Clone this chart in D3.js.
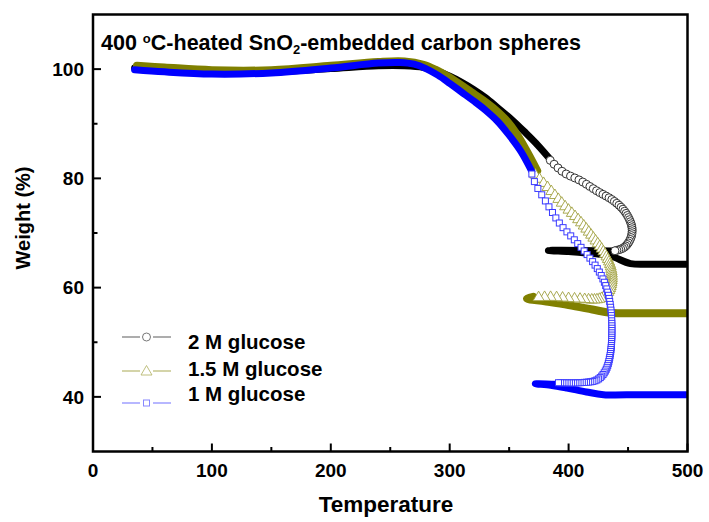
<!DOCTYPE html>
<html><head><meta charset="utf-8">
<script src="https://cdn.jsdelivr.net/npm/d3@7"></script>
<style>
body{margin:0;background:#fff}
text{font-family:"Liberation Sans",Arial,sans-serif;font-weight:bold;fill:#000}
</style>
</head><body>
<svg id="chart" width="709" height="522"></svg>
<script>
// ---------------- DATA ----------------
const seriesNames = ["2 M glucose", "1.5 M glucose", "1 M glucose"];

// 2 M glucose (black): heating part, fast-burn part (sparse markers), final part
const t2M_heat = [35, 60, 100, 150, 200, 240, 262, 278, 290, 300, 310, 320, 330, 340, 353, 364, 374, 384.5];
const w2M_heat = [100.2, 99.8, 99.4, 99.5, 100.1, 100.6, 100.6, 100.3, 99.6, 98.7, 97.6, 96.3, 94.8, 93.0, 90.6, 88.3, 86.1, 83.5];
const t2M_burst = [384.6, 395.7, 409.8, 423.8, 437.8, 447.7, 453.3, 452.0, 446.3, 437.8];
const w2M_burst = [83.3, 81.1, 79.6, 77.7, 75.9, 73.8, 71.0, 68.9, 67.3, 66.7];
const t2M_end = [437.8, 412.6, 383, 400, 412.6, 435, 452, 470, 499];
const w2M_end = [66.7, 66.8, 66.8, 66.6, 66.4, 65.8, 64.4, 64.3, 64.3];

// 1.5 M glucose (olive)
const t15M_heat = [37, 60, 100, 150, 200, 240, 262, 278, 288, 298, 308, 318, 328, 338, 348, 356, 364, 373.6];
const w15M_heat = [100.6, 100.3, 99.8, 99.8, 100.6, 101.3, 101.4, 100.8, 99.9, 98.7, 97.3, 95.8, 94.3, 92.6, 90.5, 88.2, 85.3, 81.4];
const t15M_burst = [372, 384.5, 395.7, 409.8, 421, 429.4, 435, 436.4, 433.6, 426.6, 407, 384.5, 370];
const w15M_burst = [80.8, 78.0, 75.3, 72.2, 69.2, 66.7, 64.3, 61.8, 59.4, 58.1, 58.1, 58.4, 58.3];
const t15M_end = [370, 365, 380, 400, 420, 435, 460, 499];
const w15M_end = [58.3, 58.0, 57.5, 56.8, 56.0, 55.4, 55.3, 55.3];

// 1 M glucose (blue)
const t1M_heat = [35, 60, 100, 150, 200, 240, 258, 270, 280, 290, 300, 310, 320, 330, 340, 350, 360, 369];
const w1M_heat = [99.9, 99.5, 99.1, 99.3, 100.2, 101.1, 101.2, 100.9, 100.1, 98.9, 97.4, 95.8, 94.2, 92.5, 90.5, 87.9, 84.9, 81.3];
const t1M_burst = [369.1, 372, 376.3, 384.6, 393, 404.2, 415.4, 423.8, 430.8, 435, 436.4, 435, 430.8, 423.8, 409.8, 390.2];
const w1M_burst = [80.8, 79.0, 77.4, 74.4, 71.6, 68.9, 66.1, 63.6, 60.6, 56.9, 52.6, 47.7, 44.7, 43.1, 42.6, 42.6];
const t1M_end = [390.2, 372, 385, 398.6, 415, 429.4, 460, 499];
const w1M_end = [42.3, 42.4, 42.1, 41.6, 40.9, 40.4, 40.4, 40.4];

const xTicks = [0, 100, 200, 300, 400, 500];
const xMinorTicks = [50, 150, 250, 350, 450];
const yTicks = [40, 60, 80, 100];
const yMinorTicks = [50, 70, 90];

// ---------------- STYLE ----------------
const styles = [
  {band: "#000000", mark: "#333333", legLine: "#777777", shape: "circle", bandW: 7,
   gaps: [[0, 5.5], [0.45, 3.5], [0.75, 2], [1, 2]]},
  {band: "#808000", mark: "#a0a040", legLine: "#b8b870", shape: "triangle", bandW: 8,
   gaps: [[0, 6], [0.4, 3.5], [0.6, 2], [0.72, 2.5], [0.8, 6], [1, 6]]},
  {band: "#0000ff", mark: "#3a3aff", legLine: "#8888ff", shape: "square", bandW: 7,
   gaps: [[0, 8], [0.3, 5], [0.55, 3], [0.7, 2], [1, 2.2]]}
];

const svg = d3.select("#chart");
const x = d3.scaleLinear().domain([0, 500]).range([93, 687.5]);
const y = d3.scaleLinear().domain([30, 110]).range([451.5, 14.5]);

svg.append("defs").append("clipPath").attr("id", "clip")
  .append("rect").attr("x", 93).attr("y", 14.5).attr("width", 594.5).attr("height", 437);

const plot = svg.append("g").attr("clip-path", "url(#clip)");

const zip = (t, w) => t.map((v, i) => [v, w[i]]);
const series = [
  {heat: zip(t2M_heat, w2M_heat), burst: zip(t2M_burst, w2M_burst), end: zip(t2M_end, w2M_end)},
  {heat: zip(t15M_heat, w15M_heat), burst: zip(t15M_burst, w15M_burst), end: zip(t15M_end, w15M_end)},
  {heat: zip(t1M_heat, w1M_heat), burst: zip(t1M_burst, w1M_burst), end: zip(t1M_end, w1M_end)}
];

const lineGen = d3.line().x(d => x(d[0])).y(d => y(d[1])).curve(d3.curveCatmullRom.alpha(0.5));

function gapAt(f, stops) {
  for (let i = 1; i < stops.length; i++) {
    if (f <= stops[i][0]) {
      const a = stops[i - 1], b = stops[i];
      return a[1] + (b[1] - a[1]) * (f - a[0]) / (b[0] - a[0]);
    }
  }
  return stops[stops.length - 1][1];
}

function drawMarker(g, shape, color, px, py) {
  if (shape === "circle") {
    g.append("circle").attr("cx", px).attr("cy", py).attr("r", 4)
      .attr("fill", "#fff").attr("stroke", color).attr("stroke-width", 1);
  } else if (shape === "triangle") {
    g.append("path").attr("d", `M${px},${py - 5.5}L${px + 5.5},${py + 4}L${px - 5.5},${py + 4}Z`)
      .attr("fill", "#fff").attr("stroke", color).attr("stroke-width", 0.9);
  } else {
    g.append("rect").attr("x", px - 3).attr("y", py - 3).attr("width", 6).attr("height", 6)
      .attr("fill", "#fff").attr("stroke", color).attr("stroke-width", 1);
  }
}

series.forEach((s, i) => {
  const st = styles[i];
  const g = plot.append("g");
  [s.heat, s.end].forEach(seg => {
    g.append("path").attr("d", lineGen(seg)).attr("fill", "none")
      .attr("stroke", st.band).attr("stroke-width", st.bandW)
      .attr("stroke-linecap", "round").attr("stroke-linejoin", "round");
  });
  const guide = g.append("path").attr("d", lineGen(s.burst)).attr("fill", "none").attr("stroke", "none");
  const node = guide.node();
  const L = node.getTotalLength();
  let pos = 0;
  while (pos <= L) {
    const p = node.getPointAtLength(pos);
    drawMarker(g, st.shape, st.mark, p.x, p.y);
    pos += gapAt(pos / L, st.gaps);
  }
});

// ---------------- AXES / FRAME ----------------
const axes = svg.append("g");
axes.append("rect").attr("x", 93).attr("y", 14.5).attr("width", 594.5).attr("height", 437)
  .attr("fill", "none").attr("stroke", "#000").attr("stroke-width", 2.5);

xTicks.forEach(t => {
  axes.append("line").attr("x1", x(t)).attr("x2", x(t)).attr("y1", 451.5).attr("y2", 443.5)
    .attr("stroke", "#000").attr("stroke-width", 2);
  axes.append("text").attr("x", x(t)).attr("y", 476.5).attr("text-anchor", "middle")
    .attr("font-size", 19).text(t);
});
xMinorTicks.forEach(t => {
  axes.append("line").attr("x1", x(t)).attr("x2", x(t)).attr("y1", 451.5).attr("y2", 447)
    .attr("stroke", "#000").attr("stroke-width", 2);
});
yTicks.forEach(t => {
  axes.append("line").attr("x1", 93).attr("x2", 101).attr("y1", y(t)).attr("y2", y(t))
    .attr("stroke", "#000").attr("stroke-width", 2);
  axes.append("text").attr("x", 84).attr("y", y(t)).attr("dy", "0.36em").attr("text-anchor", "end")
    .attr("font-size", 19).text(t);
});
yMinorTicks.forEach(t => {
  axes.append("line").attr("x1", 93).attr("x2", 97.5).attr("y1", y(t)).attr("y2", y(t))
    .attr("stroke", "#000").attr("stroke-width", 2);
});

axes.append("text").attr("x", 386).attr("y", 512).attr("text-anchor", "middle")
  .attr("font-size", 22.5).text("Temperature");
axes.append("text").attr("transform", "translate(30,218) rotate(-90)").attr("text-anchor", "middle")
  .attr("font-size", 20).text("Weight (%)");

// title
const title = svg.append("text").attr("x", 101).attr("y", 50).attr("font-size", 21.5);
title.append("tspan").text("400 ");
title.append("tspan").attr("font-size", 13).attr("dy", -7).text("o");
title.append("tspan").attr("dy", 7).text("C-heated SnO");
title.append("tspan").attr("font-size", 13).attr("dy", 4).text("2");
title.append("tspan").attr("dy", -4).text("-embedded carbon spheres");

// legend
const legRows = [337, 371, 403];
const legText = [349, 376, 401];
seriesNames.forEach((name, i) => {
  const st = styles[i];
  const lg = svg.append("g");
  lg.append("line").attr("x1", 122).attr("x2", 140).attr("y1", legRows[i]).attr("y2", legRows[i])
    .attr("stroke", st.legLine).attr("stroke-width", 1.2);
  lg.append("line").attr("x1", 153).attr("x2", 171).attr("y1", legRows[i]).attr("y2", legRows[i])
    .attr("stroke", st.legLine).attr("stroke-width", 1.2);
  drawMarker(lg, st.shape, st.legLine, 146.5, legRows[i]);
  lg.append("text").attr("x", 188).attr("y", legText[i]).attr("font-size", 20.5).text(name);
});
</script>
</body></html>
